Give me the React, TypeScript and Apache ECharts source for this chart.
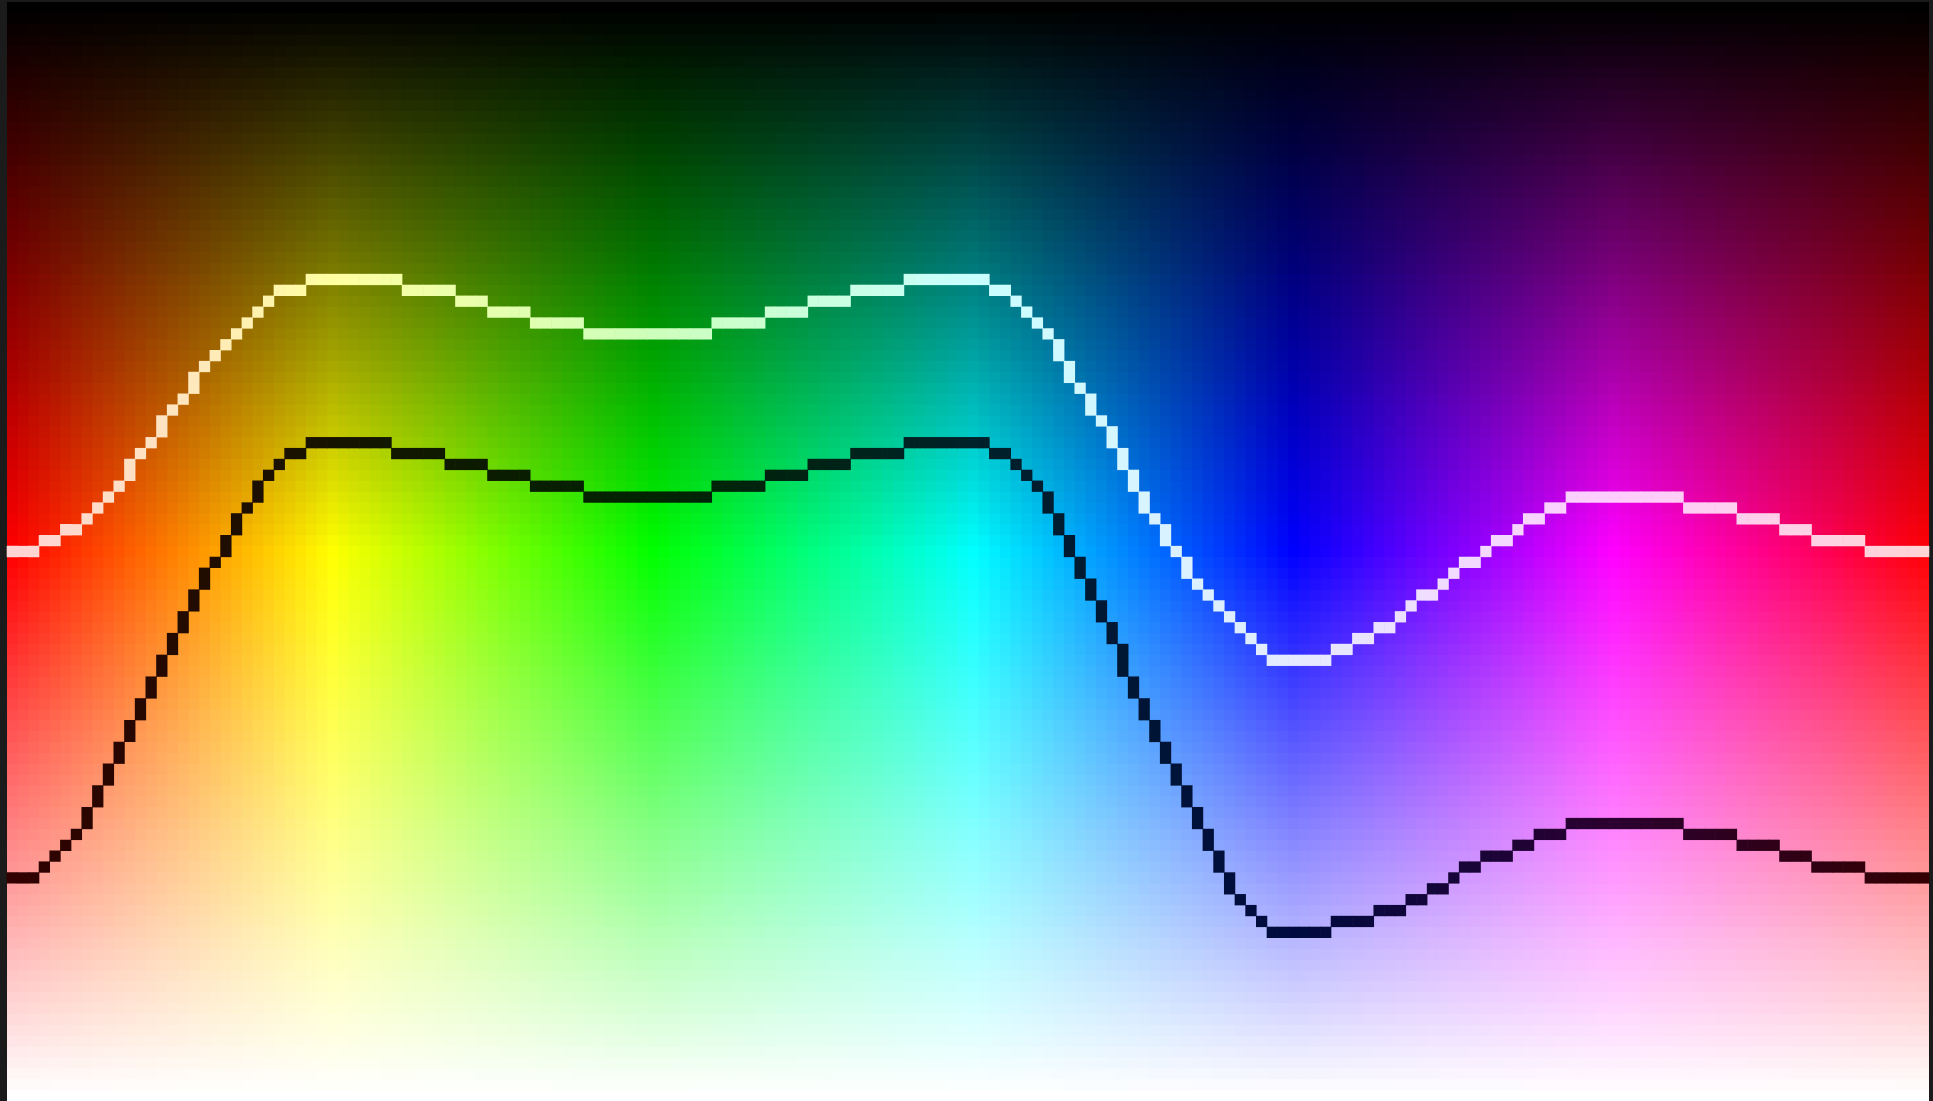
import React, { useEffect, useRef } from "react";
import * as echarts from "echarts";

// Hue columns (degrees), left to right
const hues = [
  0, 2, 4, 6, 8, 10, 12, 14, 16, 18, 20, 22, 24, 26, 28, 30, 32, 34, 36, 38,
  40, 42, 44, 46, 48, 50, 52, 54, 56, 58, 60, 62, 64, 66, 68, 70, 72, 74, 76, 78,
  80, 82, 84, 86, 88, 90, 92, 94, 96, 98, 100, 102, 104, 106, 108, 110, 112, 114, 116, 118,
  120, 122, 124, 126, 128, 130, 132, 134, 136, 138, 140, 142, 144, 146, 148, 150, 152, 154, 156, 158,
  160, 162, 164, 166, 168, 170, 172, 174, 176, 178, 180, 182, 184, 186, 188, 190, 192, 194, 196, 198,
  200, 202, 204, 206, 208, 210, 212, 214, 216, 218, 220, 222, 224, 226, 228, 230, 232, 234, 236, 238,
  240, 242, 244, 246, 248, 250, 252, 254, 256, 258, 260, 262, 264, 266, 268, 270, 272, 274, 276, 278,
  280, 282, 284, 286, 288, 290, 292, 294, 296, 298, 300, 302, 304, 306, 308, 310, 312, 314, 316, 318,
  320, 322, 324, 326, 328, 330, 332, 334, 336, 338, 340, 342, 344, 346, 348, 350, 352, 354, 356, 358,
];

// Lightness rows (%), top to bottom
const lightness = [
  0, 1, 2, 3, 4, 5, 6, 7, 8, 9, 10, 11, 12, 13, 14, 15, 16, 17, 18, 19,
  20, 21, 22, 23, 24, 25, 26, 27, 28, 29, 30, 31, 32, 33, 34, 35, 36, 37, 38, 39,
  40, 41, 42, 43, 44, 45, 46, 47, 48, 49, 50, 51, 52, 53, 54, 55, 56, 57, 58, 59,
  60, 61, 62, 63, 64, 65, 66, 67, 68, 69, 70, 71, 72, 73, 74, 75, 76, 77, 78, 79,
  80, 81, 82, 83, 84, 85, 86, 87, 88, 89, 90, 91, 92, 93, 94, 95, 96, 97, 98, 99,
  100,
];

// Light iso-line (lightness % per hue column)
const whiteLine = [
  50, 50, 50, 49, 49, 48, 48, 47, 46, 45,
  44, 43, 41, 40, 39, 37, 36, 35, 33, 32,
  31, 30, 29, 28, 27, 26, 26, 26, 25, 25,
  25, 25, 25, 25, 25, 25, 25, 26, 26, 26,
  26, 26, 27, 27, 27, 28, 28, 28, 28, 29,
  29, 29, 29, 29, 30, 30, 30, 30, 30, 30,
  30, 30, 30, 30, 30, 30, 29, 29, 29, 29,
  29, 28, 28, 28, 28, 27, 27, 27, 27, 26,
  26, 26, 26, 26, 25, 25, 25, 25, 25, 25,
  25, 25, 26, 26, 27, 28, 29, 30, 31, 33,
  35, 36, 38, 39, 41, 43, 45, 47, 48, 50,
  51, 53, 54, 55, 56, 57, 58, 59, 60, 60,
  60, 60, 60, 60, 59, 59, 58, 58, 57, 57,
  56, 55, 54, 54, 53, 52, 51, 51, 50, 49,
  49, 48, 47, 47, 46, 46, 45, 45, 45, 45,
  45, 45, 45, 45, 45, 45, 45, 46, 46, 46,
  46, 46, 47, 47, 47, 47, 48, 48, 48, 49,
  49, 49, 49, 49, 50, 50, 50, 50, 50, 50,
];

// Dark iso-line (lightness % per hue column)
const blackLine = [
  80, 80, 80, 79, 78, 77, 76, 75, 73, 71,
  69, 67, 65, 63, 61, 59, 57, 55, 53, 51,
  50, 48, 46, 45, 43, 42, 41, 41, 40, 40,
  40, 40, 40, 40, 40, 40, 41, 41, 41, 41,
  41, 42, 42, 42, 42, 43, 43, 43, 43, 44,
  44, 44, 44, 44, 45, 45, 45, 45, 45, 45,
  45, 45, 45, 45, 45, 45, 44, 44, 44, 44,
  44, 43, 43, 43, 43, 42, 42, 42, 42, 41,
  41, 41, 41, 41, 40, 40, 40, 40, 40, 40,
  40, 40, 41, 41, 42, 43, 44, 45, 47, 49,
  51, 53, 55, 57, 59, 62, 64, 66, 68, 70,
  72, 74, 76, 78, 80, 82, 83, 84, 85, 85,
  85, 85, 85, 85, 84, 84, 84, 84, 83, 83,
  83, 82, 82, 81, 81, 80, 79, 79, 78, 78,
  78, 77, 77, 76, 76, 76, 75, 75, 75, 75,
  75, 75, 75, 75, 75, 75, 75, 76, 76, 76,
  76, 76, 77, 77, 77, 77, 78, 78, 78, 79,
  79, 79, 79, 79, 80, 80, 80, 80, 80, 80,
];

// Line tints along the hue axis (position 0..1, colour)
const whiteLineStops: [number, string][] = [
  [0, "#ffd4d4"], [0.083, "#ffe4c0"], [0.167, "#ffffa0"], [0.333, "#ccffbb"],
  [0.5, "#c8ffff"], [0.667, "#e4eaff"], [0.833, "#ffccff"], [1, "#ffd4d4"],
];
const blackLineStops: [number, string][] = [
  [0, "#320000"], [0.167, "#161400"], [0.333, "#002400"], [0.5, "#00222a"],
  [0.667, "#000a40"], [0.833, "#2c0030"], [1, "#320000"],
];

function hslToHex(h: number, s: number, l: number): string {
  const c = (1 - Math.abs(2 * l - 1)) * s;
  const hp = (h % 360) / 60;
  const x = c * (1 - Math.abs((hp % 2) - 1));
  let r = 0, g = 0, b = 0;
  if (hp < 1) { r = c; g = x; }
  else if (hp < 2) { r = x; g = c; }
  else if (hp < 3) { g = c; b = x; }
  else if (hp < 4) { g = x; b = c; }
  else if (hp < 5) { r = x; b = c; }
  else { r = c; b = x; }
  const m = l - c / 2;
  const to = (v: number) => {
    const n = Math.round((v + m) * 255);
    return Math.max(0, Math.min(255, n)).toString(16).padStart(2, "0");
  };
  return "#" + to(r) + to(g) + to(b);
}

function hexToRgb(hex: string): number[] {
  const n = parseInt(hex.slice(1), 16);
  return [(n >> 16) & 255, (n >> 8) & 255, n & 255];
}

function tintAt(list: [number, string][], t: number): string {
  for (let k = 0; k < list.length - 1; k++) {
    const [t0, c0] = list[k];
    const [t1, c1] = list[k + 1];
    if (t >= t0 && t <= t1) {
      const f = t1 === t0 ? 0 : (t - t0) / (t1 - t0);
      const a = hexToRgb(c0);
      const b = hexToRgb(c1);
      const m = a.map((v, idx) => Math.round(v + (b[idx] - v) * f));
      return "rgb(" + m.join(",") + ")";
    }
  }
  return list[list.length - 1][1];
}

// For each column: [column, row, end row of its vertical run toward the next column]
function lineCells(values: number[]): number[][] {
  return values.map((v, c) => {
    const next = c + 1 < values.length ? values[c + 1] : v;
    let end = v;
    if (next > v + 1) end = next - 1;
    else if (next < v - 1) end = next + 1;
    return [c, v, end];
  });
}

function lineSeries(values: number[], tints: [number, string][]) {
  return {
    type: "custom",
    xAxisIndex: 0,
    yAxisIndex: 1,
    data: lineCells(values),
    silent: true,
    z: 3,
    renderItem: (params: any, api: any) => {
      const c = api.value(0);
      const a = api.value(1);
      const b = api.value(2);
      const lo = Math.min(a, b);
      const hi = Math.max(a, b);
      const p1 = api.coord([c, lo - 0.5]);
      const p2 = api.coord([c, hi + 0.5]);
      const w = api.size([1, 0])[0];
      const y = Math.min(p1[1], p2[1]);
      const h = Math.abs(p2[1] - p1[1]);
      return {
        type: "rect",
        shape: { x: p1[0] - w / 2 - 0.3, y: y - 0.2, width: w + 0.6, height: h + 0.4 },
        style: { fill: tintAt(tints, hues[c] / 360) },
        silent: true,
      };
    },
  };
}

export default function App() {
  const ref = useRef<HTMLDivElement>(null);
  useEffect(() => {
    if (!ref.current) return;
    const chart = echarts.init(ref.current, undefined, { renderer: "svg" });
    const cells: number[][] = [];
    for (let i = 0; i < hues.length; i++) {
      for (let j = 0; j < lightness.length; j++) {
        cells.push([i, j]);
      }
    }
    chart.setOption({
      animation: false,
      backgroundColor: "#1b1b1b",
      grid: { left: 7, top: 2, width: 1922, height: 1099, containLabel: false },
      xAxis: [{ type: "category", data: hues, show: false, boundaryGap: true }],
      yAxis: [
        { type: "category", data: lightness, show: false, inverse: true, boundaryGap: true },
        { type: "value", min: -0.5, max: 100.5, inverse: true, show: false },
      ],
      series: [
        {
          type: "custom",
          xAxisIndex: 0,
          yAxisIndex: 0,
          data: cells,
          progressive: 0,
          silent: true,
          clip: true,
          z: 1,
          renderItem: (params: any, api: any) => {
            const i = api.value(0);
            const j = api.value(1);
            const p = api.coord([i, j]);
            const s = api.size([1, 1]);
            const x0 = p[0] - s[0] / 2;
            const y0 = p[1] - s[1] / 2;
            const lastCol = i === hues.length - 1;
            const lastRow = j === lightness.length - 1;
            return {
              type: "rect",
              shape: {
                x: x0,
                y: y0,
                width: s[0] + (lastCol ? 0 : 1.2),
                height: s[1] + (lastRow ? 0 : 1.2),
              },
              style: { fill: hslToHex(hues[i], 1, lightness[j] / 100) },
              silent: true,
            };
          },
        },
        lineSeries(whiteLine, whiteLineStops),
        lineSeries(blackLine, blackLineStops),
      ],
    });
    return () => chart.dispose();
  }, []);
  return (
    <div
      style={{
        position: "fixed",
        left: 0,
        top: 0,
        width: 1933,
        height: 1101,
        background: "#1b1b1b",
      }}
    >
      <div ref={ref} style={{ width: 1933, height: 1101 }} />
    </div>
  );
}
